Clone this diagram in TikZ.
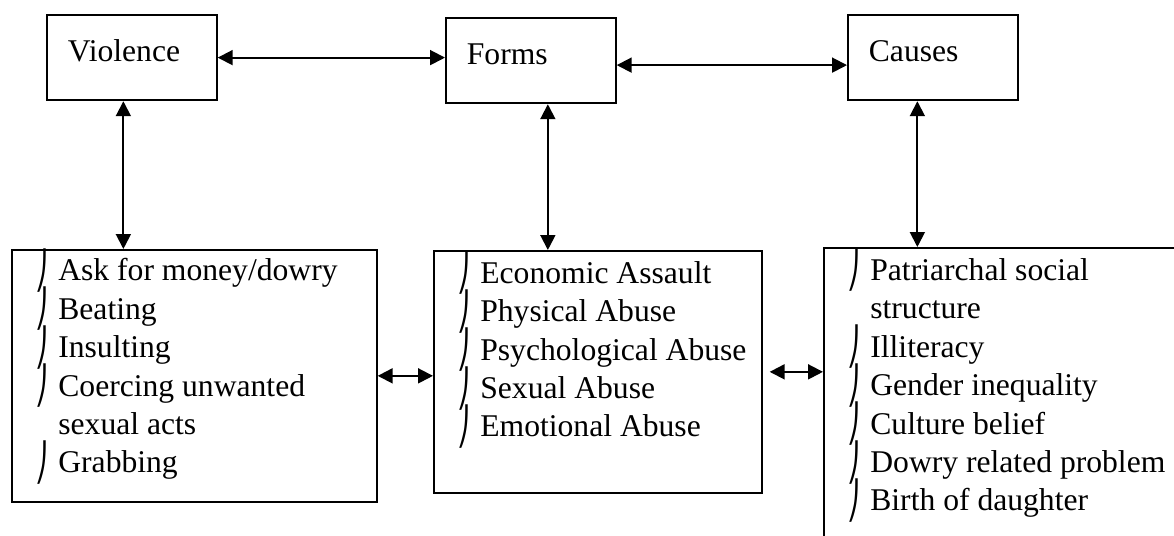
\documentclass[tikz,border=0pt]{standalone}
\usepackage{fontspec}
\usepackage{graphicx}
\setmainfont{Liberation Serif}
\newfontfamily\hookfont{DejaVu Sans}
\usepackage{tikz}
\usetikzlibrary{arrows.meta}
\tikzset{
  topbox/.style={draw, line width=1pt, anchor=north west, inner sep=0pt,
    inner xsep=0.42cm, text width=2.56cm, align=left,
    text height=0.93cm, text depth=0.78cm, font=\fontsize{18}{21.9}\selectfont},
  listbox/.style={draw, line width=1pt, anchor=north west, inner sep=0pt},
  listtext/.style={anchor=base west, inner sep=0pt, align=left,
    font=\fontsize{18}{21.9}\selectfont},
  link/.style={line width=1.1pt, {Triangle[length=8.5pt,width=8.5pt]}-{Triangle[length=8.5pt,width=8.5pt]}}
}
\newcommand{\hook}{\makebox[0.46cm][l]{\raisebox{-1.5pt}[0pt][0pt]{\scalebox{0.7}[1]{\hookfont\fontsize{21}{21}\selectfont ⎠}}}}
\newcommand{\nohook}{\hspace*{0.46cm}}

\begin{document}
\begin{tikzpicture}[x=0.02cm, y=-0.02cm]
    % frame of the page
    \useasboundingbox (0,0) rectangle (1174,536);
    \clip (0,0) rectangle (1174,536);
    % top row
    \node[topbox] (violence) at (46,14) {Violence};
    \node[topbox] (forms) at (445,17) {Forms};
    \node[topbox] (causes) at (847,14) {Causes};
    \draw[link] (violence.east) -- (violence.east -| forms.west);
    \draw[link] ([yshift=-0.09cm]forms.east) -- ([yshift=-0.09cm]forms.east -| causes.west);
    % lower boxes
    \node[listbox, minimum width=7.3cm, minimum height=5.04cm] (acts) at (11,249) {};
    \node[listbox, minimum width=6.56cm, minimum height=4.84cm] (types) at (433,250) {};
    \node[listbox, minimum width=7.54cm, minimum height=6.26cm] (reasons) at (823,247) {};
    \draw[link] ([xshift=-0.17cm]violence.south) -- ([xshift=-0.17cm]violence.south |- acts.north);
    \draw[link] ([xshift=0.34cm]forms.south) -- ([xshift=0.34cm]forms.south |- types.north);
    \draw[link] ([xshift=-0.31cm]causes.south) -- ([xshift=-0.31cm]causes.south |- reasons.north);
    \draw[link] (acts.east) -- (acts.east -| types.west);
    \draw[link] ([xshift=0.14cm]types.east) -- (types.east -| reasons.west);
    % lists (placed by the baseline of their last line)
    \node[listtext] (actslist) at (35,473) {\hook Ask for money/dowry\\ \hook Beating\\
      \hook Insulting\\ \hook Coercing unwanted\\ \nohook sexual acts\\ \hook Grabbing};
    \node[listtext] (typeslist) at (457,437) {\hook Economic Assault\\ \hook Physical Abuse\\
      \hook Psychological Abuse\\ \hook Sexual Abuse\\ \hook Emotional Abuse};
    \node[listtext] (reasonslist) at (847,511) {\hook Patriarchal social\\ \nohook structure\\
      \hook Illiteracy\\ \hook Gender inequality\\ \hook Culture belief\\
      \hook Dowry related problem\\ \hook Birth of daughter};
\end{tikzpicture}
\end{document}
